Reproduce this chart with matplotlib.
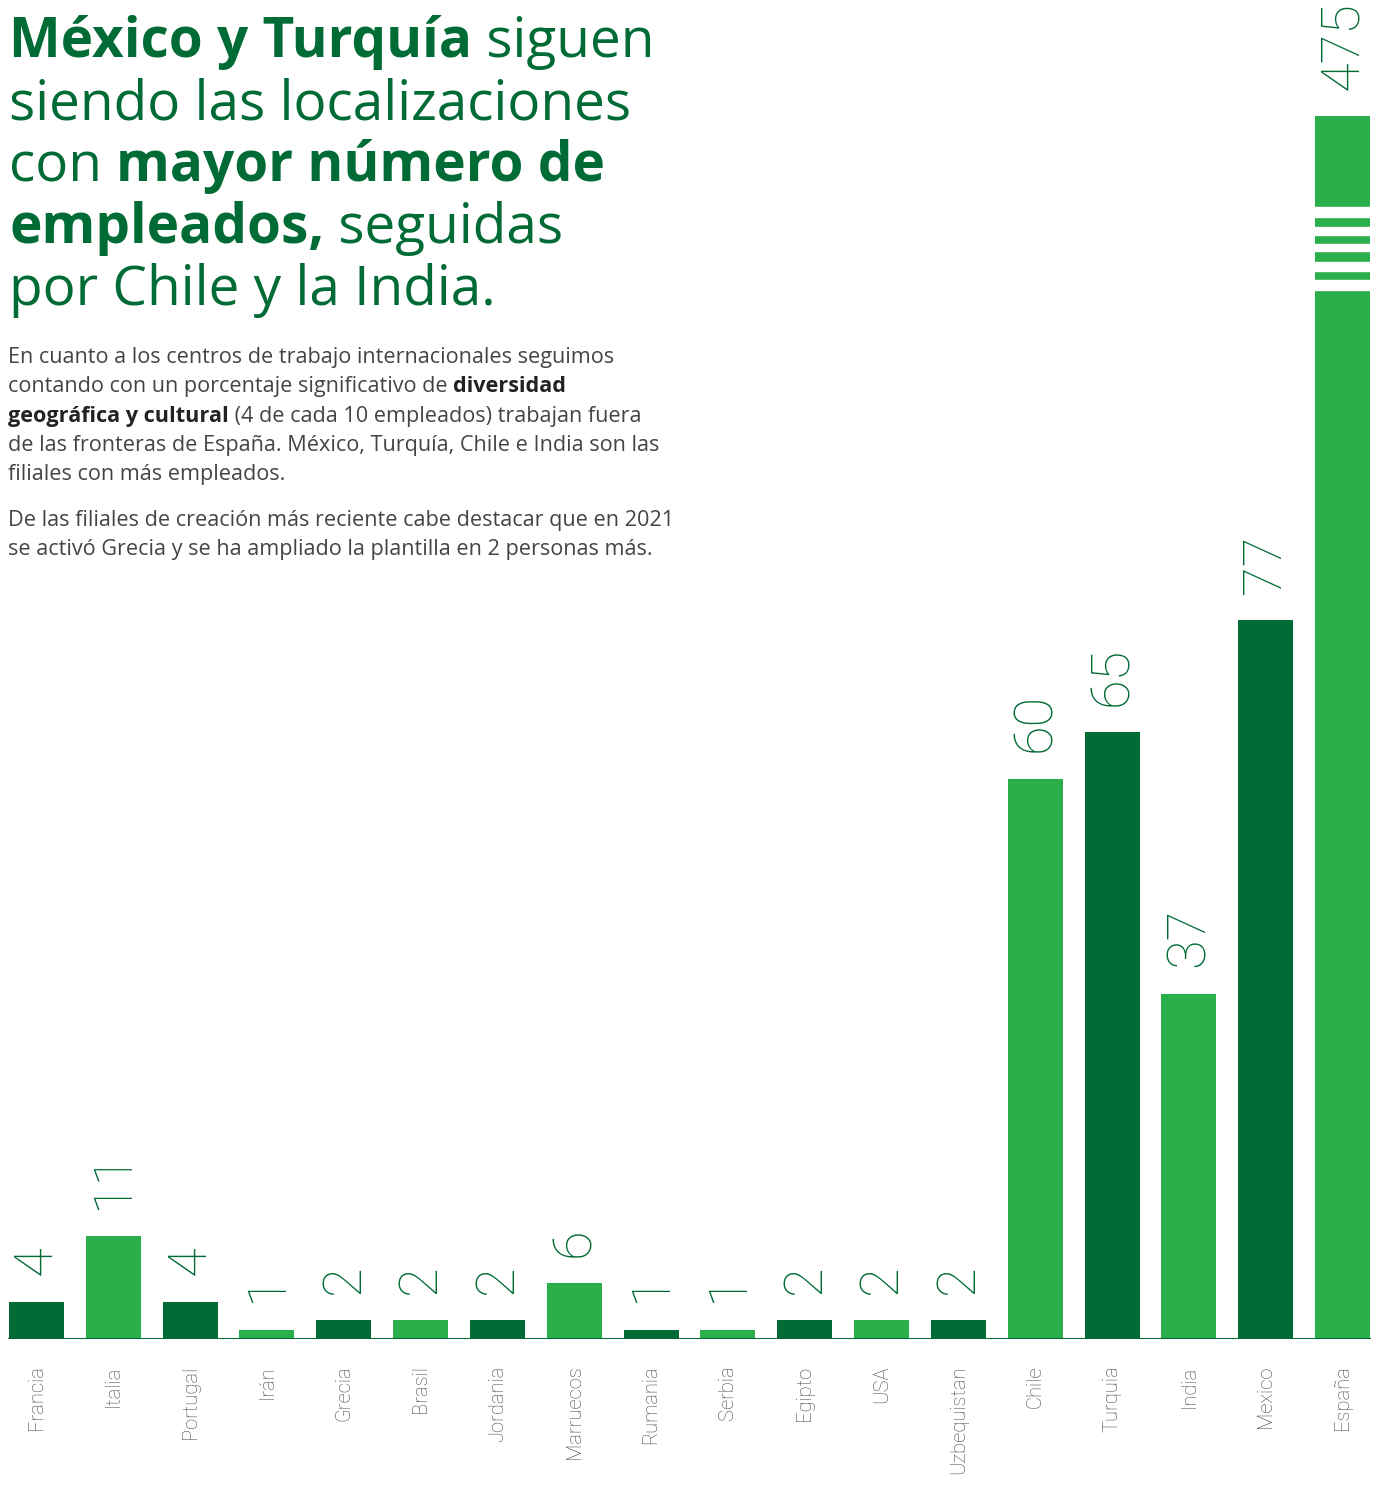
import matplotlib
matplotlib.use("Agg")
import matplotlib.pyplot as plt
from matplotlib.patches import Rectangle

countries = ["Francia", "Italia", "Portugal", "Irán", "Grecia", "Brasil", "Jordania",
             "Marruecos", "Rumania", "Serbia", "Egipto", "USA", "Uzbequistan",
             "Chile", "Turquia", "India", "Mexico", "España"]
employees = [4, 11, 4, 1, 2, 2, 2, 6, 1, 1, 2, 2, 2, 60, 65, 37, 77, 475]

DARK = "#006B35"
LIGHT = "#2BAF4A"
GRAY = "#4a4a4a"

W, H = 1381, 1496
fig = plt.figure(figsize=(W / 100, H / 100), dpi=100)

# axes: baseline at y=1339px, top at 116px (where the España bar is cut)
ax = fig.add_axes([8 / W, (H - 1339) / H, 1363 / W, 1223 / H])
ymax = 131
colors = [DARK if i % 2 == 0 else LIGHT for i in range(len(countries))]
x = list(range(len(countries)))
ax.bar(x, employees, width=0.716, color=colors, zorder=2)
ax.set_xlim(-0.37, 17.37)
ax.set_ylim(0, ymax)
ax.axhline(0, color=DARK, lw=2.2, zorder=3)

# broken-bar stripes on the España bar
breaks = [(112.4, 113.4), (114.4, 115.4), (116.5, 117.3), (118.3, 119.1), (120.2, 121.2)]
for lo, hi in breaks:
    ax.add_patch(Rectangle((17 - 0.4, lo), 0.8, hi - lo, color="white", zorder=4))

for xi, v in zip(x, employees):
    ax.annotate(str(v), (xi, min(v, ymax)), xytext=(0, 19), textcoords="offset points",
                rotation=90, ha="center", va="bottom", fontsize=39, color=DARK,
                family="Roboto", fontweight="light", annotation_clip=False)

for s in ax.spines.values():
    s.set_visible(False)
ax.set_yticks([])
ax.set_xticks(x)
ax.set_xticklabels(countries, rotation=90, fontsize=14.5, color=GRAY,
                   family="Roboto", fontweight="light")
ax.tick_params(axis="x", length=0, pad=19)

# rich text helper: segments of (text, bold)
renderer = fig.canvas.get_renderer()


def rich_line(x0, y0, segments, size, color, bold_color, family):
    xp = x0
    for txt, bold in segments:
        t = fig.text(xp / W, 1 - y0 / H, txt, fontsize=size, family=family,
                     fontweight="bold" if bold else "normal",
                     color=bold_color if bold else color, va="baseline", ha="left")
        bb = t.get_window_extent(renderer=renderer)
        xp += bb.width


title_lines = [
    [("México y Turquía", True), (" siguen", False)],
    [("siendo las localizaciones", False)],
    [("con ", False), ("mayor número de", True)],
    [("empleados,", True), (" seguidas", False)],
    [("por Chile y la India.", False)],
]
title_base = [57, 119, 181, 243, 305]
for segs, yb in zip(title_lines, title_base):
    rich_line(9, yb, segs, 39.5, DARK, DARK, "Open Sans")

body_lines = [
    [("En cuanto a los centros de trabajo internacionales seguimos", False)],
    [("contando con un porcentaje significativo de ", False), ("diversidad", True)],
    [("geográfica y cultural", True), (" (4 de cada 10 empleados) trabajan fuera", False)],
    [("de las fronteras de España. México, Turquía, Chile e India son las", False)],
    [("filiales con más empleados.", False)],
    [("De las filiales de creación más reciente cabe destacar que en 2021", False)],
    [("se activó Grecia y se ha ampliado la plantilla en 2 personas más.", False)],
]
body_base = [363, 392, 422, 451, 480, 526, 555]
for segs, yb in zip(body_lines, body_base):
    rich_line(8, yb, segs, 15.6, "#444444", "#222222", "Open Sans")

fig.savefig("out.png", dpi=100)
